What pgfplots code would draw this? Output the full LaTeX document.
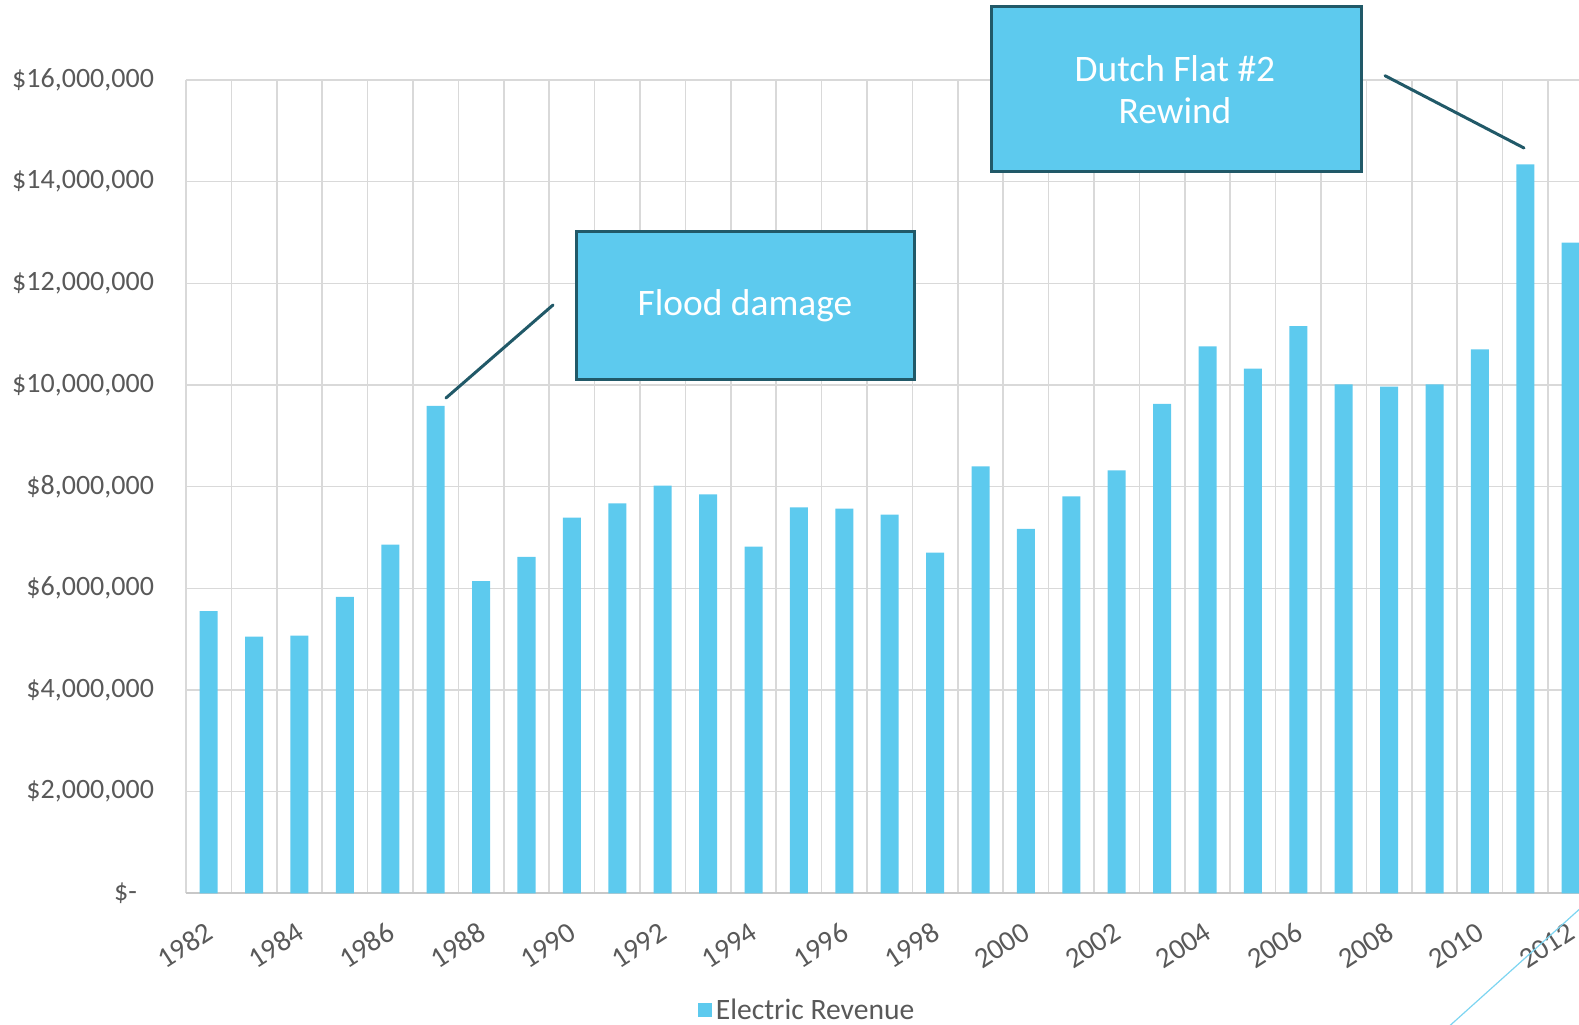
\documentclass[border=0pt]{standalone}
\usepackage{fontspec}
\setmainfont{Carlito}
\usepackage{pgfplots}
\pgfplotsset{compat=1.18}
\definecolor{barblue}{HTML}{5DCAEE}
\definecolor{darkteal}{HTML}{215968}
\definecolor{gridgray}{HTML}{D9D9D9}
\definecolor{axisgray}{HTML}{C8C8C8}
\definecolor{labelgray}{HTML}{595959}
\begin{document}
\begin{tikzpicture}
\begin{axis}[
  at={(0,0)}, anchor=south west,
  scale only axis,
  width=703.7pt, height=406.65pt,
  xmin=-0.5, xmax=30.5, ymin=0, ymax=16000000,
  ybar, bar width=9pt,
  scaled y ticks=false,
  separate axis lines,
  axis x line*=bottom, axis y line*=left,
  x axis line style={-, draw=axisgray, line width=1pt},
  y axis line style={draw=none},
  xtick={0,...,30},
  xticklabels={1982,{},1984,{},1986,{},1988,{},1990,{},1992,{},1994,{},1996,{},1998,{},2000,{},2002,{},2004,{},2006,{},2008,{},2010,{},2012},
  minor xtick={-0.5,0.5,...,30.5},
  xminorgrids, yminorgrids=false, ymajorgrids,
  grid style={draw=gridgray, line width=0.75pt},
  minor grid style={draw=gridgray, line width=0.75pt},
  tick align=inside,
  major tick length=2.2pt, minor tick length=0pt,
  xtick style={draw=axisgray, line width=0.6pt},
  ytick style={draw=none},
  ytick={0,2000000,4000000,6000000,8000000,10000000,12000000,14000000,16000000},
  yticklabels={{\$-\hspace*{8.5pt}},{\$2,000,000},{\$4,000,000},{\$6,000,000},{\$8,000,000},{\$10,000,000},{\$12,000,000},{\$14,000,000},{\$16,000,000}},
  yticklabel style={anchor=east, xshift=-12.5pt, text=labelgray, font=\fontsize{14pt}{16pt}\selectfont},
  xticklabel style={rotate=33, anchor=north east, xshift=-6pt, yshift=-7pt, text=labelgray, font=\fontsize{14.5pt}{16pt}\selectfont},
  legend style={at={(0.442,-0.144)}, anchor=center, draw=none, fill=none,
    font=\fontsize{14.8pt}{16pt}\selectfont, text=labelgray, inner sep=0pt},
  legend image code/.code={\fill[barblue] (0pt,-3.5pt) rectangle (7pt,3.5pt);},
]
\addplot[fill=barblue, draw=none, bar shift=0pt] coordinates {
(0,5550000) (1,5050000) (2,5070000) (3,5830000) (4,6860000) (5,9590000)
(6,6140000) (7,6620000) (8,7390000) (9,7670000) (10,8020000) (11,7850000)
(12,6820000) (13,7590000) (14,7570000) (15,7450000) (16,6700000) (17,8400000)
(18,7170000) (19,7810000) (20,8320000) (21,9630000) (22,10760000) (23,10320000)
(24,11160000) (25,10010000) (26,9970000) (27,10010000) (28,10700000) (29,14340000)
(30,12800000)};
\addlegendentry{Electric Revenue}
\end{axis}
% annotations
\draw[darkteal, line width=1.5pt, line cap=round] (130pt,247.65pt) -- (183.5pt,294.15pt);
\draw[darkteal, line width=1.5pt, fill=barblue] (195pt,256.65pt) rectangle (364pt,330.65pt);
\node[text=white, font=\fontsize{18.7pt}{21pt}\selectfont] at (279.5pt,293.65pt) {Flood damage};
\draw[darkteal, line width=1.5pt, line cap=round] (599.5pt,408.8pt) -- (669pt,372.65pt);
\draw[darkteal, line width=1.5pt, fill=barblue] (402.5pt,360.65pt) rectangle (587.5pt,443.15pt);
\node[text=white, align=center, font=\fontsize{18.7pt}{21pt}\selectfont] at (494.5pt,401.9pt) {Dutch Flat \#2\\Rewind};
\draw[barblue!80, line width=0.6pt] (631pt,-67pt) -- (700pt,-5pt);
\pgfresetboundingbox
\path[use as bounding box] (-93pt,-65.35pt) rectangle (696.5pt,446.65pt);
\end{tikzpicture}
\end{document}
